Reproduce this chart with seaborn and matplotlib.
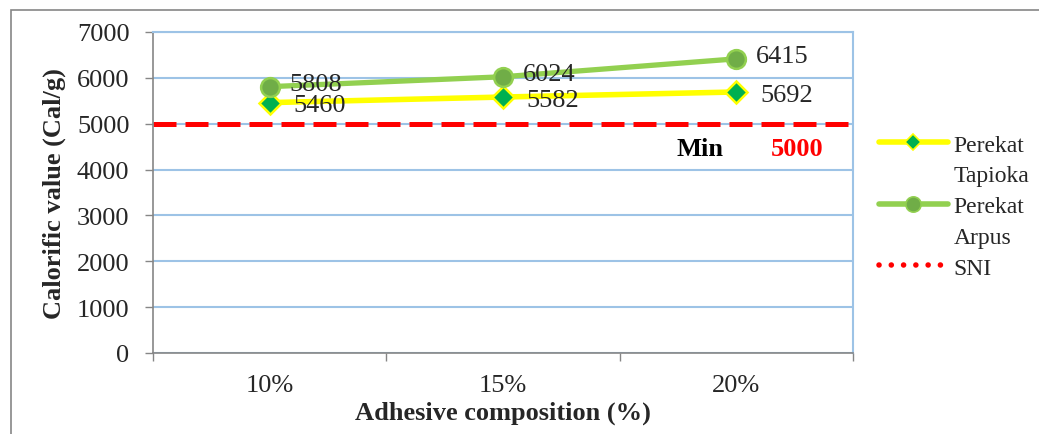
import numpy as np
import pandas as pd
import matplotlib
matplotlib.use("Agg")
import matplotlib.pyplot as plt
from matplotlib.lines import Line2D
from matplotlib.patches import Rectangle
import seaborn as sns

# Data
categories = ["10%", "15%", "20%"]
tapioka = [5460, 5582, 5692]
arpus = [5808, 6024, 6415]
sni_min = 5000
y_ticks = [0, 1000, 2000, 3000, 4000, 5000, 6000, 7000]

sns.set_style("white")
plt.rcParams["font.family"] = ["Liberation Serif", "DejaVu Serif"]

FS = 19

fig = plt.figure(figsize=(10.39, 4.35), dpi=100)
ax = fig.add_axes([153 / 1039, 1 - 354 / 435, 700 / 1039, 321 / 435])

pos = np.arange(len(categories))
df = pd.DataFrame({"pos": np.concatenate([pos, pos]),
                   "value": tapioka + arpus,
                   "series": ["Perekat Tapioka"] * 3 + ["Perekat Arpus"] * 3})

# Grid first so lines sit above it
ax.set_axisbelow(True)
ax.yaxis.grid(True, color="#9DC3E6", lw=1.5)
ax.xaxis.grid(False)

# SNI minimum line
ax.axhline(sni_min, color="#FF0000", lw=3.6, dashes=(4.6, 1.8), zorder=2)

sns.lineplot(data=df[df.series == "Perekat Tapioka"], x="pos", y="value",
             ax=ax, color="#FFFF00", lw=4, marker="D", markersize=11,
             markerfacecolor="#00B050", markeredgecolor="#FFFF00",
             markeredgewidth=1.8, zorder=4, legend=False)
sns.lineplot(data=df[df.series == "Perekat Arpus"], x="pos", y="value",
             ax=ax, color="#92D050", lw=3.8, marker="o", markersize=13.5,
             markerfacecolor="#70AD47", markeredgecolor="#92D050",
             markeredgewidth=1.8, zorder=5, legend=False)

# Value labels
for x, v in zip(pos, tapioka):
    ax.annotate(f"{v}", (x, v), xytext=(17, -2), textcoords="offset points",
                ha="left", va="center", fontsize=FS, zorder=6)
for x, v in zip(pos, arpus):
    ax.annotate(f"{v}", (x, v), xytext=(14, 2), textcoords="offset points",
                ha="left", va="center", fontsize=FS, zorder=6)

ax.text(1.845, 4470, "Min", ha="center", va="center", fontsize=FS,
        fontweight="bold", color="black")
ax.text(2.26, 4470, f"{sni_min}", ha="center", va="center", fontsize=FS,
        fontweight="bold", color="#FF0000")

ax.set_xlim(-0.5, 2.5)
ax.set_ylim(0, 7000)
ax.set_yticks(y_ticks)
ax.set_yticklabels([str(t) for t in y_ticks], fontsize=FS)
ax.tick_params(axis="y", which="major", length=6, width=1, color="#868686",
               left=True, pad=11)

# Category boundaries as tick marks, names centred between them
ax.set_xticks([-0.5, 0.5, 1.5, 2.5])
ax.set_xticklabels([])
ax.set_xticks(pos, minor=True)
ax.set_xticklabels(categories, minor=True, fontsize=FS)
ax.tick_params(axis="x", which="major", length=6, width=1, color="#868686",
               bottom=True)
ax.tick_params(axis="x", which="minor", length=0, pad=15)

for side in ["top", "right"]:
    ax.spines[side].set_color("#9DC3E6")
    ax.spines[side].set_linewidth(1.5)
for side in ["left", "bottom"]:
    ax.spines[side].set_color("#868686")
    ax.spines[side].set_linewidth(1.2)

ax.set_xlabel("Adhesive composition (%)", fontsize=FS, fontweight="bold")
ax.xaxis.set_label_coords(0.5, -0.148)
ax.set_ylabel("Calorific value (Cal/g)", fontsize=FS, fontweight="bold")
ax.yaxis.set_label_coords(-0.124, 0.5)

# Legend: marker sits beside the first line of each two-line name
blank = Line2D([], [], color="none")
handles = [
    Line2D([], [], color="#FFFF00", lw=4, marker="D", markersize=8,
           markerfacecolor="#00B050", markeredgecolor="#FFFF00",
           markeredgewidth=1.2),
    blank,
    Line2D([], [], color="#92D050", lw=4, marker="o", markersize=11,
           markerfacecolor="#70AD47", markeredgecolor="#92D050",
           markeredgewidth=1.2),
    blank,
    Line2D([], [], color="#FF0000", lw=4, ls=(0, (0.01, 2.2)),
           dash_capstyle="round"),
]
labels = ["Perekat", "Tapioka", "Perekat", "Arpus", "SNI"]
fig.legend(handles, labels, loc="upper left",
           bbox_to_anchor=(872 / 1039, 1 - 128 / 435), frameon=False,
           fontsize=17, handlelength=2.9, handletextpad=0.25,
           labelspacing=0.39, numpoints=1, borderaxespad=0, borderpad=0.3)

# Outer chart frame
fig.patches.append(Rectangle((11 / 1039, -0.05), 1.1, 1 - 11 / 435 + 0.05,
                             transform=fig.transFigure, fill=False,
                             edgecolor="#868686", lw=1.2))

fig.savefig("out.png", dpi=100)
